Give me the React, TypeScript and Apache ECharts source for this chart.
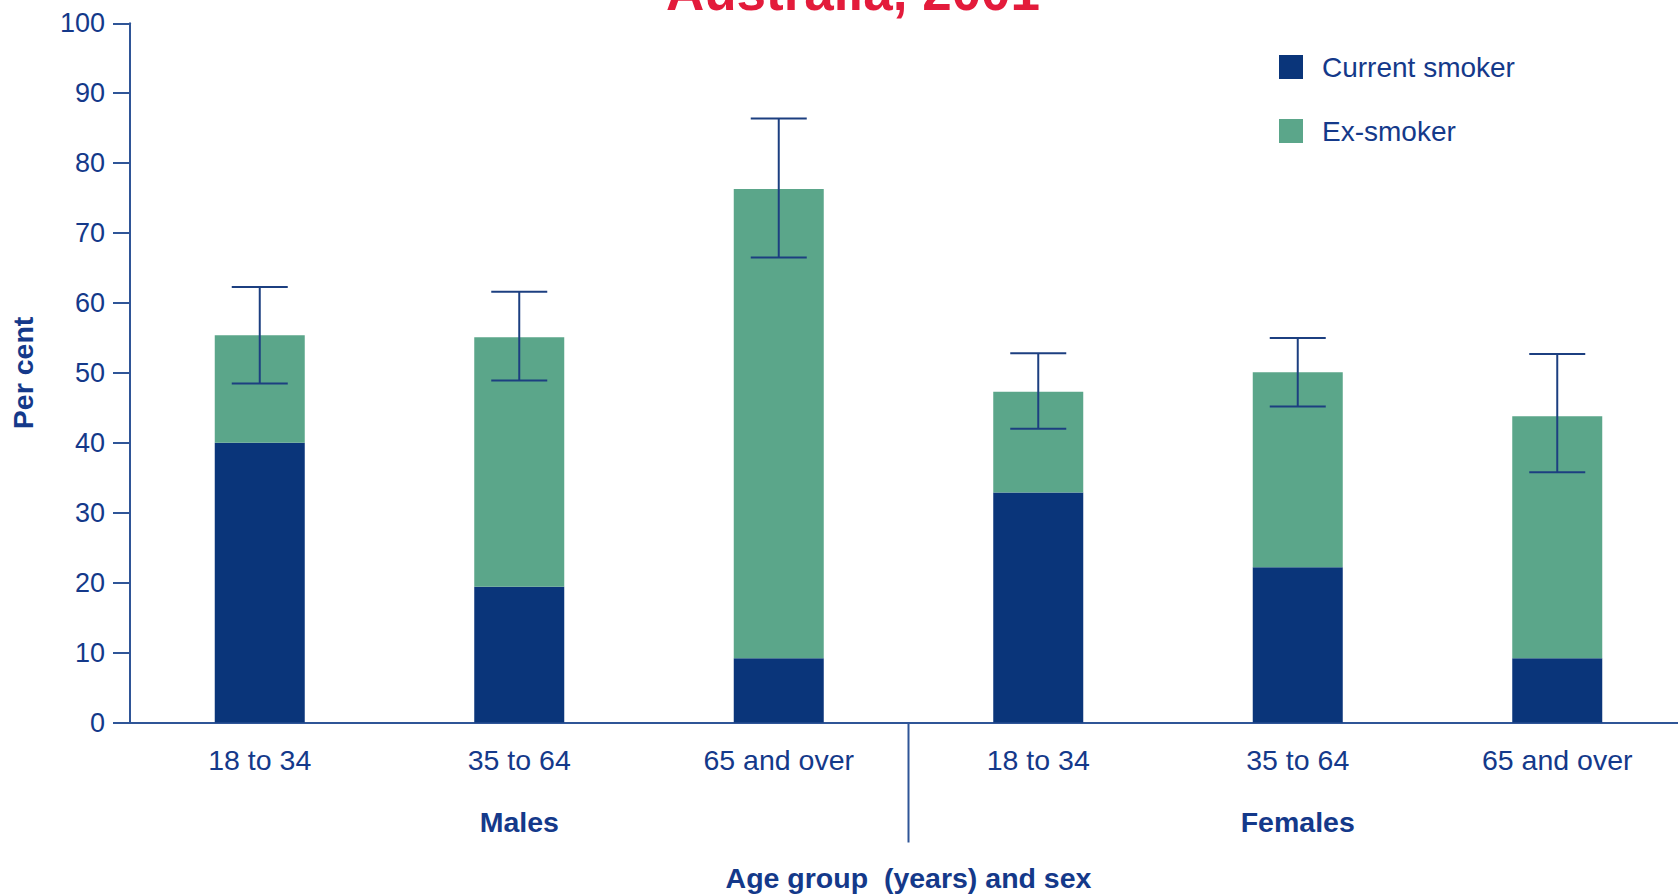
import React, { useEffect, useRef } from "react";
import * as echarts from "echarts";

const categories = ["18 to 34", "35 to 64", "65 and over", "18 to 34", "35 to 64", "65 and over"];
const groups = ["Males", "Females"];
const currentSmoker = [40.0, 19.4, 9.2, 32.9, 22.2, 9.2];
const exSmoker = [15.4, 35.7, 67.1, 14.4, 27.9, 34.6];
const errLow = [48.5, 48.9, 66.5, 42.0, 45.2, 35.8];
const errHigh = [62.3, 61.6, 86.4, 52.8, 55.0, 52.7];
const yTicks = { min: 0, max: 100, interval: 10 };

const NAVY = "#0a357a";
const GREEN = "#5ba68a";
const TEXT = "#14398a";
const AXIS = "#2f5597";
const FONT = "'Liberation Sans', Arial, Helvetica, sans-serif";

export default function App() {
  const ref = useRef<HTMLDivElement>(null);
  useEffect(() => {
    if (!ref.current) return;
    const chart = echarts.init(ref.current, undefined, { renderer: "svg" });
    const option: any = {
      animation: false,
      backgroundColor: "#ffffff",
      grid: { left: 130, top: 23.3, right: 13, bottom: 171.5, containLabel: false },
      legend: {
        orient: "vertical",
        left: 1274,
        top: 48,
        itemWidth: 24,
        itemHeight: 24,
        itemGap: 36,
        icon: "rect",
        textStyle: { color: TEXT, fontSize: 28, fontFamily: FONT, padding: [0, 0, 0, 14] },
        data: ["Current smoker", "Ex-smoker"],
      },
      xAxis: {
        type: "category",
        data: categories,
        axisLine: { lineStyle: { color: AXIS, width: 2 } },
        axisTick: { alignWithLabel: true, length: 18, lineStyle: { color: AXIS, width: 1.5 } },
        axisLabel: { color: TEXT, fontSize: 28.5, fontFamily: FONT, margin: 23, interval: 0 },
      },
      yAxis: {
        type: "value",
        min: yTicks.min,
        max: yTicks.max,
        interval: yTicks.interval,
        splitLine: { show: false },
        axisLine: { show: true, lineStyle: { color: AXIS, width: 2 } },
        axisTick: { show: true, length: 17, lineStyle: { color: AXIS, width: 2 } },
        axisLabel: { color: TEXT, fontSize: 27, fontFamily: FONT, margin: 25 },
        name: "Per cent",
        nameLocation: "middle",
        nameRotate: 90,
        nameGap: 93,
        nameTextStyle: { color: TEXT, fontSize: 28.5, fontWeight: "bold", fontFamily: FONT },
      },
      series: [
        {
          name: "Current smoker",
          type: "bar",
          stack: "total",
          barWidth: 90,
          itemStyle: { color: NAVY },
          data: currentSmoker,
        },
        {
          name: "Ex-smoker",
          type: "bar",
          stack: "total",
          barWidth: 90,
          itemStyle: { color: GREEN },
          data: exSmoker,
        },
        {
          name: "error",
          type: "custom",
          data: categories.map((_, i) => [i, errLow[i], errHigh[i]]),
          z: 10,
          renderItem: (params: any, api: any) => {
            const x = api.value(0);
            const lo = api.coord([x, api.value(1)]);
            const hi = api.coord([x, api.value(2)]);
            const hw = 28;
            const style = { stroke: "#1c3f80", lineWidth: 2 };
            return {
              type: "group",
              children: [
                { type: "line", shape: { x1: hi[0], y1: hi[1], x2: lo[0], y2: lo[1] }, style },
                { type: "line", shape: { x1: hi[0] - hw, y1: hi[1], x2: hi[0] + hw, y2: hi[1] }, style },
                { type: "line", shape: { x1: lo[0] - hw, y1: lo[1], x2: lo[0] + hw, y2: lo[1] }, style },
              ],
            };
          },
        },
      ],
    };
    chart.setOption(option);

    const px = (i: number) => chart.convertToPixel({ xAxisIndex: 0 }, i) as number;
    const y0 = chart.convertToPixel({ yAxisIndex: 0 }, 0) as number;
    const divX = (px(2) + px(3)) / 2;
    const boldText = (text: string, x: number, y: number) => ({
      type: "text",
      style: {
        text,
        x,
        y,
        align: "center",
        verticalAlign: "middle",
        fill: TEXT,
        fontSize: 28.5,
        fontWeight: "bold",
        fontFamily: FONT,
      },
    });
    chart.setOption({
      graphic: [
        {
          type: "text",
          style: {
            text: "Australia, 2001",
            x: 853,
            y: -9,
            align: "center",
            verticalAlign: "middle",
            fill: "#e31b3b",
            fontSize: 53,
            fontWeight: "bold",
            fontFamily: FONT,
          },
        },
        {
          type: "line",
          shape: { x1: divX, y1: y0, x2: divX, y2: y0 + 120 },
          style: { stroke: AXIS, lineWidth: 2 },
        },
        boldText(groups[0], px(1), 822),
        boldText(groups[1], px(4), 822),
        boldText("Age group  (years) and sex", divX, 878),
      ],
    });
    return () => chart.dispose();
  }, []);
  return (
    <div style={{ position: "fixed", left: 0, top: 0, width: 1678, height: 894, overflow: "hidden", background: "#fff" }}>
      <div ref={ref} style={{ width: 1700, height: 894 }} />
    </div>
  );
}
